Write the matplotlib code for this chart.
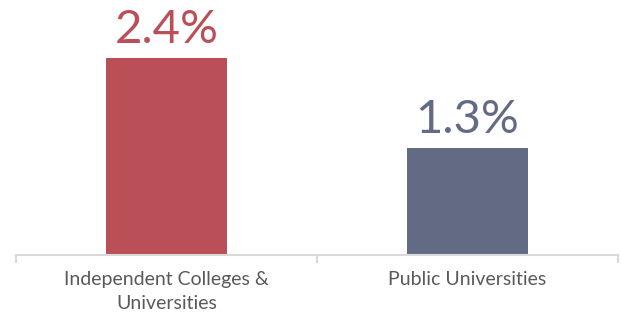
import matplotlib
matplotlib.use("Agg")
import matplotlib.pyplot as plt

categories = ["Independent Colleges &\nUniversities", "Public Universities"]
values = [2.4, 1.3]
labels = ["2.4%", "1.3%"]
colors = ["#BA4F57", "#636B84"]

W, H = 621, 315
fig = plt.figure(figsize=(W/100, H/100), dpi=100)
ax = fig.add_axes([16/W, (H-255)/H, (618-16)/W, 255/H])

x = [0, 1]
ax.bar(x, values, width=0.4, color=colors)
ax.set_xlim(-0.5, 1.5)
ax.set_ylim(0, 255/82.1)

for xi, v, lab, c in zip(x, values, labels, colors):
    ax.text(xi, v + 0.09, lab, ha="center", va="bottom", color=c,
            fontsize=34, family="Lato")

for s in ["top", "right", "left"]:
    ax.spines[s].set_visible(False)
ax.spines["bottom"].set_color("#D9D9D9")
ax.spines["bottom"].set_linewidth(1.5)
ax.set_yticks([])
ax.set_xticks([-0.5, 0.5, 1.5], minor=False)
ax.set_xticklabels([])
ax.tick_params(axis="x", length=6, width=1.5, color="#D9D9D9")
for xi, cat in zip(x, categories):
    ax.text(xi, -0.2, cat, ha="center", va="top", color="#595959",
            fontsize=14, family="Lato", linespacing=1.45, transform=ax.transData)

fig.savefig("out.png", dpi=100)
